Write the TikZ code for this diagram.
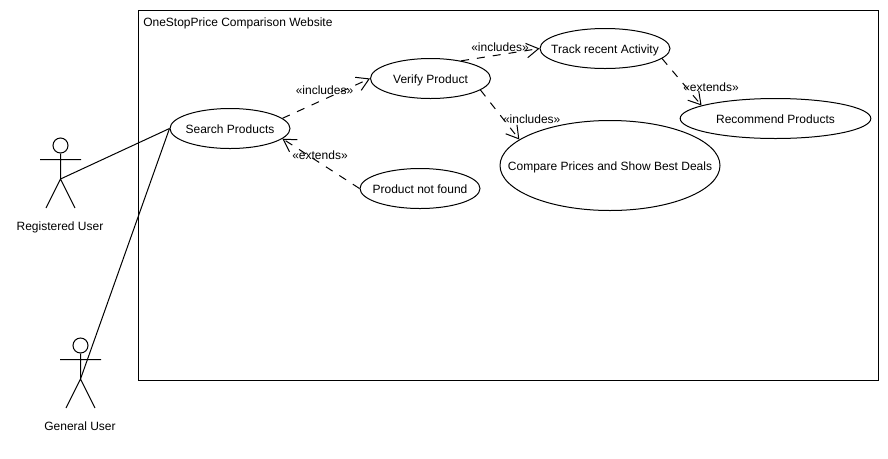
\documentclass[tikz,border=0pt]{standalone}
\usepackage{fontspec}
\setmainfont{Liberation Sans}
\usetikzlibrary{shapes.geometric,arrows.meta}
\newcommand{\uctext}[1]{\makebox[0pt]{\raisebox{-3.7pt}[0pt][0pt]{#1}}}
\tikzset{
  px/.style={x=0.75pt,y=-0.75pt},
  line/.style={draw=black,line width=0.75pt},
  usecase/.style={line,shape=ellipse,inner sep=0pt,font=\fontsize{9}{11}\selectfont},
  txt/.style={inner sep=0pt,font=\fontsize{9}{11}\selectfont},
  edgetxt/.style={inner sep=0pt,font=\fontsize{9}{11}\selectfont},
  head/.style={line,shape=circle,minimum size=11.25pt,inner sep=0pt},
  rel/.style={line,dash pattern=on 6pt off 6pt,-{Straight Barb[length=9pt,width=10.8pt,line width=0.75pt]}},
  assoc/.style={line}
}
\begin{document}
\begin{tikzpicture}[px]
\useasboundingbox (0,0) rectangle (888,458);
\node[line,minimum width=555pt,minimum height=277.5pt,inner sep=0pt,anchor=north west] (sys) at (138,10) {};
\node[txt,anchor=west] (title) at (143,23.5) {OneStopPrice Comparison Website};
\node[usecase,minimum width=90pt,minimum height=30pt] (search) at (230,128.5) {\uctext{Search Products}};
\node[usecase,minimum width=90pt,minimum height=30pt] (verify) at (430.5,78.5) {\uctext{Verify Product}};
\node[usecase,minimum width=97.5pt,minimum height=30pt] (track) at (605,48.5) {\uctext{Track recent Activity}};
\node[usecase,minimum width=143pt,minimum height=30pt] (recommend) at (775.5,118.5) {\uctext{Recommend Products}};
\node[usecase,minimum width=165pt,minimum height=67.5pt] (compare) at (610,165.5) {\uctext{Compare Prices and Show Best Deals}};
\node[usecase,minimum width=90pt,minimum height=30pt] (notfound) at (420,188.5) {\uctext{Product not found}};
% registered user
\node[head] (h1) at (60.5,145.5) {};
\coordinate (hip1) at (60.5,179);
\coordinate (al1) at (40,159.5);
\coordinate (ar1) at (81,159.5);
\coordinate (ll1) at (46,208);
\coordinate (lr1) at (75,208);
\draw[line] (h1) -- (hip1) (al1) -- (ar1) (ll1) -- (hip1) -- (lr1);
\node[txt] (l1) at (60,227) {Registered User};
% general user
\node[head] (h2) at (80.5,345.5) {};
\coordinate (hip2) at (80.5,379);
\coordinate (al2) at (60,359.5);
\coordinate (ar2) at (101,359.5);
\coordinate (ll2) at (66,408);
\coordinate (lr2) at (95,408);
\draw[line] (h2) -- (hip2) (al2) -- (ar2) (ll2) -- (hip2) -- (lr2);
\node[txt] (l2) at (80,426.5) {General User};
% associations
\draw[assoc] (hip1) -- (search.west);
\draw[assoc] (hip2) -- (search.west);
% relations
\draw[rel] (search.11) -- (verify.west);
\draw[rel] (verify.30) -- (track.west);
\draw[rel] (verify.-13.5) -- (compare.164);
\draw[rel] (track.-10.5) -- (recommend.170.7);
\draw[rel] (notfound.west) -- (search.-11.6);
% labels
\node[edgetxt] (e1) at (324.5,90.5) {«includes»};
\node[edgetxt] (e2) at (500,47.5) {«includes»};
\node[edgetxt] (e3) at (531.7,119.5) {«includes»};
\node[edgetxt] (e4) at (320,155.5) {«extends»};
\node[edgetxt] (e5) at (711,87.5) {«extends»};
\end{tikzpicture}
\end{document}
